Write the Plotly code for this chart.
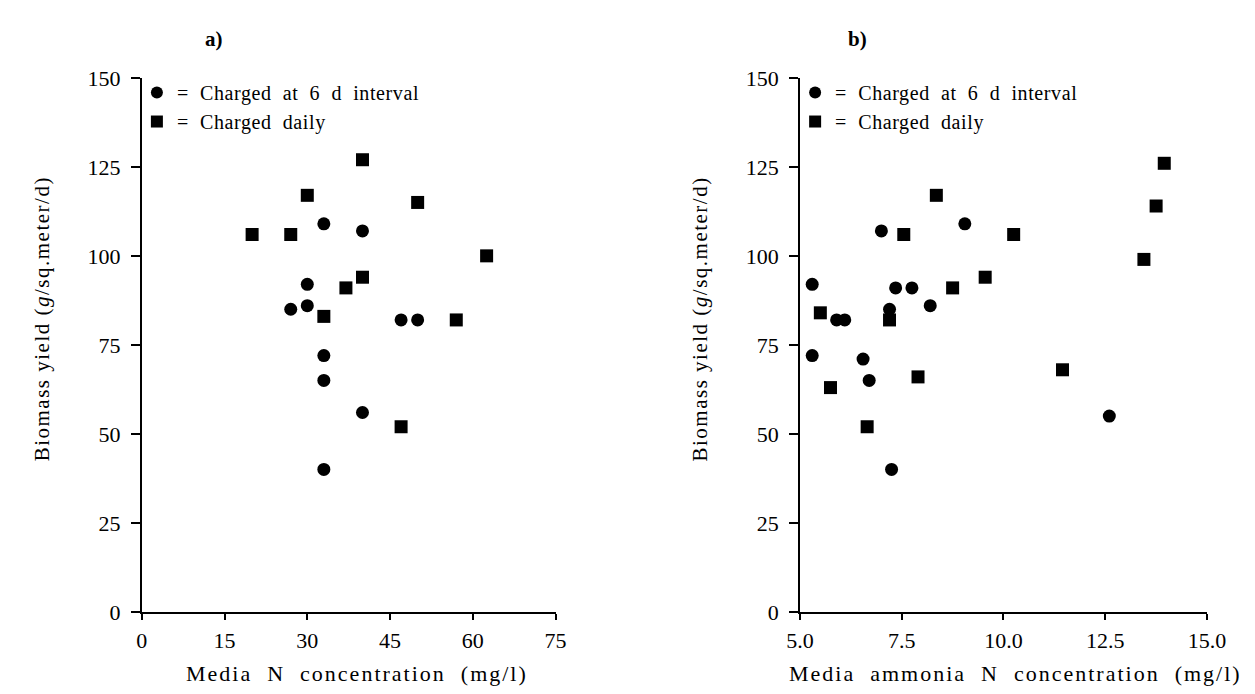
import plotly.graph_objects as go

# Panel a) Media N concentration (mg/l) vs biomass yield
a_circle_x = [27, 30, 30, 33, 33, 33, 33, 40, 40, 47, 50]
a_circle_y = [85, 86, 92, 109, 72, 65, 40, 107, 56, 82, 82]
a_square_x = [20, 27, 30, 33, 37, 40, 40, 47, 50, 57, 62.5]
a_square_y = [106, 106, 117, 83, 91, 94, 127, 52, 115, 82, 100]

# Panel b) Media ammonia N concentration (mg/l) vs biomass yield
b_circle_x = [5.3, 5.3, 5.9, 6.1, 6.55, 6.7, 7.0, 7.2, 7.25, 7.35, 7.75, 8.2, 9.05, 12.6]
b_circle_y = [92, 72, 82, 82, 71, 65, 107, 85, 40, 91, 91, 86, 109, 55]
b_square_x = [5.5, 5.75, 6.65, 7.2, 7.55, 7.9, 8.35, 8.75, 9.55, 10.25, 11.45, 13.45, 13.75, 13.95]
b_square_y = [84, 63, 52, 82, 106, 66, 117, 91, 94, 106, 68, 99, 114, 126]

a_xticks = [0, 15, 30, 45, 60, 75]
b_xticks = [5.0, 7.5, 10.0, 12.5, 15.0]
b_xticklabels = ["5.0", "7.5", "10.0", "12.5", "15.0"]
y_ticks = [0, 25, 50, 75, 100, 125, 150]

series_names = ["= Charged at 6 d interval", "= Charged daily"]
a_xtitle = "Media N concentration (mg/l)"
b_xtitle = "Media ammonia N concentration (mg/l)"
ytitle = "Biomass yield (<i>g</i>/sq.meter/d)"

W, H = 1255, 694
FONT = "Liberation Serif, Times New Roman, serif"


def px(x):
    return x / W


def py(y):
    return 1 - y / H


def spaced(s, n, ls):
    # wider word and letter spacing as in the original typesetting
    s = s.replace(" ", "\u00a0" * (n - 1) + " ")
    return '<span style="letter-spacing:%.1fpx">%s</span>' % (ls, s)


fig = go.Figure()
mk = dict(color="black", size=13)

for xs, ys, sym, nm, xa, ya, lg in [
    (a_circle_x, a_circle_y, "circle", series_names[0], "x", "y", "legend"),
    (a_square_x, a_square_y, "square", series_names[1], "x", "y", "legend"),
    (b_circle_x, b_circle_y, "circle", series_names[0], "x2", "y2", "legend2"),
    (b_square_x, b_square_y, "square", series_names[1], "x2", "y2", "legend2"),
]:
    fig.add_trace(go.Scatter(x=xs, y=ys, mode="markers",
                             marker=dict(symbol=sym, **mk), name=spaced(nm, 2, 0.6),
                             xaxis=xa, yaxis=ya, legend=lg, cliponaxis=False))

axis_common = dict(showline=True, linecolor="black", linewidth=1.6, ticks="outside",
                   tickcolor="black", tickwidth=1.6, showgrid=False, zeroline=False,
                   tickfont=dict(family=FONT, size=22, color="black"))

y_dom = [py(614), py(60)]

leg_common = dict(xanchor="left", yanchor="top", bgcolor="rgba(0,0,0,0)",
                  font=dict(family=FONT, size=20, color="black"),
                  itemsizing="constant", tracegroupgap=0)

fig.update_layout(
    width=W, height=H,
    margin=dict(l=0, r=0, t=0, b=0),
    paper_bgcolor="white", plot_bgcolor="white",
    font=dict(family=FONT, color="black"),
    xaxis=dict(domain=[px(123), px(548)], range=[0, 75], tickvals=a_xticks,
               ticklen=6, ticklabelstandoff=2, anchor="y", **axis_common),
    yaxis=dict(domain=y_dom, range=[0, 150], tickvals=y_ticks, ticklen=9,
               ticklabelstandoff=6, anchor="x", **axis_common),
    xaxis2=dict(domain=[px(799), px(1217)], range=[5, 15], tickvals=b_xticks,
                ticktext=b_xticklabels, ticklen=6, ticklabelstandoff=2, anchor="y2", **axis_common),
    yaxis2=dict(domain=y_dom, range=[0, 150], tickvals=y_ticks, ticklen=9,
                ticklabelstandoff=6, anchor="x2", **axis_common),
    legend=dict(x=px(118), y=py(55), **leg_common),
    legend2=dict(x=px(794), y=py(55), **leg_common),
    showlegend=True,
)

ann_font = dict(family=FONT, size=22, color="black")
yt_font = dict(family=FONT, size=21, color="black")
annotations = [
    dict(text="<b>a)</b>", x=px(197), y=py(20), xanchor="center", yanchor="middle",
         xref="paper", yref="paper", showarrow=False, font=dict(family=FONT, size=21, color="black")),
    dict(text="<b>b)</b>", x=px(858), y=py(20), xanchor="center", yanchor="middle",
         xref="paper", yref="paper", showarrow=False, font=dict(family=FONT, size=21, color="black")),
    dict(text=spaced(a_xtitle, 2, 2.0), x=px(344), y=py(678), xanchor="center", yanchor="middle",
         xref="paper", yref="paper", showarrow=False, font=ann_font),
    dict(text=spaced(b_xtitle, 2, 2.0), x=px(1020), y=py(678), xanchor="center", yanchor="middle",
         xref="paper", yref="paper", showarrow=False, font=ann_font),
    dict(text=spaced(ytitle, 1, 1.5), x=px(20), y=py(310), textangle=-90, xanchor="center", yanchor="middle",
         xref="paper", yref="paper", showarrow=False, font=yt_font),
    dict(text=spaced(ytitle, 1, 1.5), x=px(696), y=py(310), textangle=-90, xanchor="center", yanchor="middle",
         xref="paper", yref="paper", showarrow=False, font=yt_font),
]
fig.update_layout(annotations=annotations)

fig.write_html("out.html")
